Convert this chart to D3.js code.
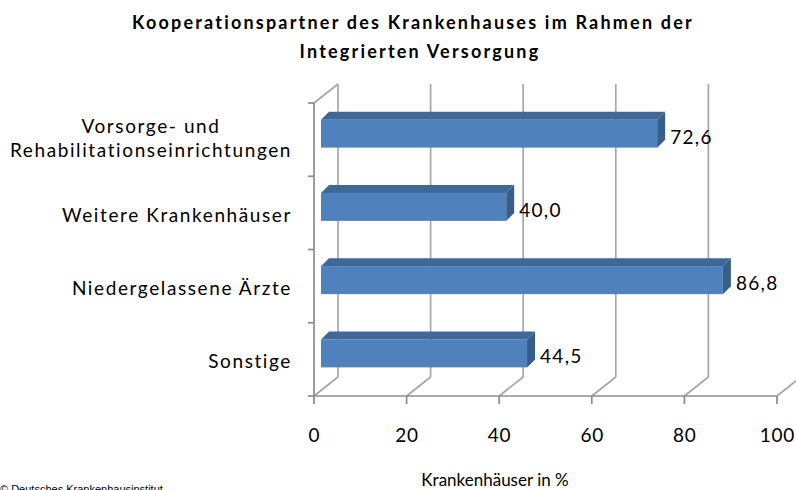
<!DOCTYPE html>
<html>
<head>
<meta charset="utf-8">
<script src="https://cdn.jsdelivr.net/npm/d3@7.9.0/dist/d3.min.js"></script>
<style>
  body { margin: 0; background: #fff; }
  svg { display: block; font-family: Lato, "Open Sans", sans-serif; }
</style>
</head>
<body>
<svg width="796" height="490"></svg>
<script>
// data
const categories = [
  ['Vorsorge- und', 'Rehabilitationseinrichtungen'],
  ['Weitere Krankenhäuser'],
  ['Niedergelassene Ärzte'],
  ['Sonstige']
];
const values = [72.6, 40.0, 86.8, 44.5];
const xTicks = [0, 20, 40, 60, 80, 100];

const svg = d3.select('svg');

// scales (front plane)
const x = d3.scaleLinear().domain([0, 100]).range([314, 777]);
const y = d3.scaleBand().domain(d3.range(categories.length)).range([103, 396]);

// 3d offsets
const depthX = 24, depthY = -19;   // wall depth
const barOff = 7, barDepth = 8;    // bar position and thickness
const barH = 28;

const gridColor = '#a6a6a6';
const axisColor = '#8c8c8c';

// back wall gridlines + floor lines
xTicks.forEach(t => {
  svg.append('line')
    .attr('x1', x(t) + depthX).attr('x2', x(t) + depthX)
    .attr('y1', 103 + depthY).attr('y2', 396 + depthY)
    .attr('stroke', gridColor).attr('stroke-width', 1.7);
  svg.append('line')
    .attr('x1', x(t)).attr('y1', 396)
    .attr('x2', x(t) + depthX).attr('y2', 396 + depthY)
    .attr('stroke', gridColor).attr('stroke-width', 1.7);
});

// left wall top edge
svg.append('line')
  .attr('x1', x(0)).attr('y1', 103)
  .attr('x2', x(0) + depthX).attr('y2', 103 + depthY)
  .attr('stroke', gridColor).attr('stroke-width', 1.7);

// left axis with ticks
svg.append('line')
  .attr('x1', x(0)).attr('x2', x(0)).attr('y1', 103).attr('y2', 396)
  .attr('stroke', axisColor).attr('stroke-width', 1.7);
d3.range(categories.length + 1).forEach(i => {
  const yy = 103 + i * y.step();
  svg.append('line')
    .attr('x1', x(0) - 6).attr('x2', x(0)).attr('y1', yy).attr('y2', yy)
    .attr('stroke', axisColor).attr('stroke-width', 1.7);
});

// bottom axis
svg.append('line')
  .attr('x1', x(0)).attr('x2', x(100)).attr('y1', 396).attr('y2', 396)
  .attr('stroke', axisColor).attr('stroke-width', 1.7);
xTicks.forEach(t => {
  svg.append('line')
    .attr('x1', x(t)).attr('x2', x(t)).attr('y1', 396).attr('y2', 404)
    .attr('stroke', axisColor).attr('stroke-width', 1.7);
  svg.append('text')
    .attr('x', x(t) + 0.4).attr('y', 442)
    .attr('text-anchor', 'middle')
    .attr('font-size', 19).attr('letter-spacing', 0.8)
    .text(t);
});

// bars
values.forEach((v, i) => {
  const x0 = x(0) + barOff, x1 = x(v) + barOff;
  const cy = y(i) + y.bandwidth() / 2 - 6;
  const yt = cy - barH / 2, yb = cy + barH / 2;
  // top face
  svg.append('polygon')
    .attr('points', [[x0, yt], [x0 + barDepth, yt - barDepth], [x1 + barDepth, yt - barDepth], [x1, yt]].join(' '))
    .attr('fill', '#3f6897');
  // side face
  svg.append('polygon')
    .attr('points', [[x1, yt], [x1 + barDepth, yt - barDepth], [x1 + barDepth, yb - barDepth], [x1, yb]].join(' '))
    .attr('fill', '#375d89');
  // front face
  svg.append('rect')
    .attr('x', x0).attr('y', yt)
    .attr('width', x1 - x0).attr('height', barH)
    .attr('fill', '#4f81bd');
  // value label
  svg.append('text')
    .attr('x', x1 + barDepth + 5).attr('y', y(i) + y.bandwidth() / 2 + 4)
    .attr('font-size', 19).attr('letter-spacing', 1.3)
    .text(d3.format('.1f')(v).replace('.', ','));
});

// category labels
categories.forEach((lines, i) => {
  const cy = y(i) + y.bandwidth() / 2;
  if (lines.length === 1) {
    svg.append('text')
      .attr('x', 292).attr('y', cy + 9)
      .attr('text-anchor', 'end')
      .attr('font-size', 19).attr('letter-spacing', 1.6)
      .text(lines[0]);
  } else {
    lines.forEach((l, j) => {
      svg.append('text')
        .attr('x', 151).attr('y', cy - 7 + j * 24)
        .attr('text-anchor', 'middle')
        .attr('font-size', 19).attr('letter-spacing', 1.6)
        .text(l);
    });
  }
});

// title
svg.append('text')
  .attr('x', 413).attr('y', 29)
  .attr('text-anchor', 'middle')
  .attr('font-size', 18).attr('font-weight', 'bold').attr('letter-spacing', 2.2)
  .text('Kooperationspartner des Krankenhauses  im Rahmen der');
svg.append('text')
  .attr('x', 420).attr('y', 58)
  .attr('text-anchor', 'middle')
  .attr('font-size', 18).attr('font-weight', 'bold').attr('letter-spacing', 2.2)
  .text('Integrierten Versorgung');

// axis title
svg.append('text')
  .attr('x', 495).attr('y', 486)
  .attr('text-anchor', 'middle')
  .attr('font-size', 17)
  .text('Krankenhäuser in %');

// source note (cut at bottom edge, as in the original)
svg.append('text')
  .attr('x', 0).attr('y', 493)
  .attr('font-size', 11)
  .attr('font-family', 'Liberation Sans, Arial, sans-serif')
  .text('© Deutsches Krankenhausinstitut');
</script>
</body>
</html>
